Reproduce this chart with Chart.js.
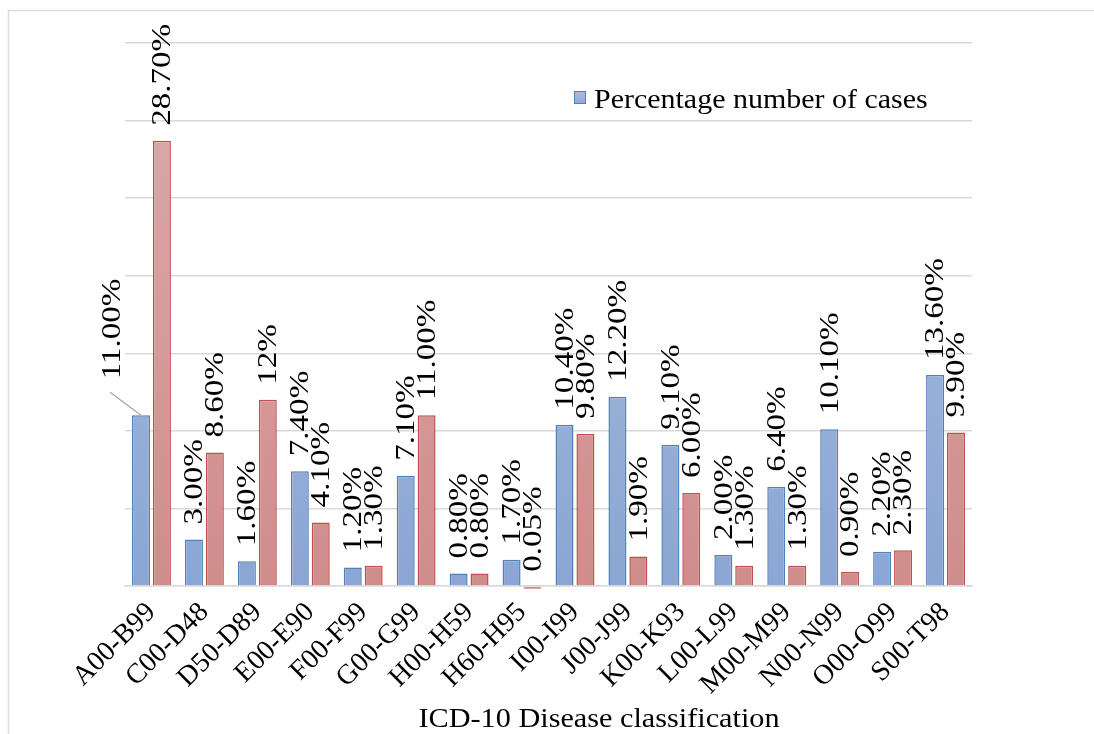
<!DOCTYPE html>
<html>
<head>
<meta charset="utf-8">
<script src="https://cdn.jsdelivr.net/npm/chart.js@4.4.0/dist/chart.umd.min.js"></script>
<style>
  html, body { margin: 0; padding: 0; background: #fff; }
  #wrap { width: 1094px; height: 734px; }
</style>
</head>
<body>
<div id="wrap"><canvas id="chart" width="1094" height="734"></canvas></div>
<script>
// ICD-10 chapters
const categories = ["A00-B99", "C00-D48", "D50-D89", "E00-E90", "F00-F99", "G00-G99", "H00-H59", "H60-H95",
  "I00-I99", "J00-J99", "K00-K93", "L00-L99", "M00-M99", "N00-N99", "O00-O99", "S00-T98"];

// blue series (in legend)
const casesPct = [11.0, 3.0, 1.6, 7.4, 1.2, 7.1, 0.8, 1.7, 10.4, 12.2, 9.1, 2.0, 6.4, 10.1, 2.2, 13.6];
// red series (no legend entry); H60-H95 bar dips just under the axis
const secondPct = [28.7, 8.6, 12.0, 4.1, 1.3, 11.0, 0.8, -0.2, 9.8, 1.9, 6.0, 1.3, 1.3, 0.9, 2.3, 9.9];

// value labels as printed on the chart
const casesText = casesPct.map(v => v.toFixed(2) + "%");
const secondText = ["28.70%", "8.60%", "12%", "4.10%", "1.30%", "11.00%", "0.80%", "0.05%",
  "9.80%", "1.90%", "6.00%", "1.30%", "1.30%", "0.90%", "2.30%", "9.90%"];

const serif = "'Liberation Serif', 'DejaVu Serif', serif";

function vGrad(ctx, area, top, bottom) {
  const g = ctx.createLinearGradient(0, area.top, 0, area.bottom);
  g.addColorStop(0, top);
  g.addColorStop(1, bottom);
  return g;
}

// frame, legend, axis title, rotated value labels
const decorations = {
  id: "decorations",
  beforeDraw(chart) {
    const ctx = chart.ctx;
    ctx.save();
    ctx.strokeStyle = "#dcdcdc";
    ctx.lineWidth = 1.5;
    ctx.beginPath();
    ctx.moveTo(8.5, 734);
    ctx.lineTo(8.5, 10.5);
    ctx.lineTo(1094, 10.5);
    ctx.stroke();
    ctx.restore();
  },
  afterDatasetsDraw(chart) {
    const ctx = chart.ctx;
    ctx.save();
    ctx.fillStyle = "#000";
    ctx.font = "28px " + serif;
    ctx.textAlign = "left";
    ctx.textBaseline = "middle";
    const texts = [casesText, secondText];
    chart.data.datasets.forEach((ds, di) => {
      chart.getDatasetMeta(di).data.forEach((bar, i) => {
        let x = bar.x;
        let y = Math.min(bar.y, bar.base) - 15;
        if (di === 0 && i === 0) {
          // callout label with leader line
          ctx.strokeStyle = "#a6a6a6";
          ctx.lineWidth = 1.2;
          ctx.beginPath();
          ctx.moveTo(bar.x - 31, bar.y - 23);
          ctx.lineTo(bar.x, bar.y);
          ctx.stroke();
          x = bar.x - 29;
          y = bar.y - 36;
        }
        ctx.save();
        ctx.translate(x, y);
        ctx.rotate(-Math.PI / 2);
        ctx.scale(1.18, 1);
        ctx.fillText(texts[di][i], 0, 1);
        ctx.restore();
      });
    });

    // legend (blue series only)
    const lg = ctx.createLinearGradient(0, 92, 0, 104);
    lg.addColorStop(0, "#aabddf");
    lg.addColorStop(1, "#8ea8d4");
    ctx.fillStyle = lg;
    ctx.fillRect(574, 91, 12, 13);
    ctx.strokeStyle = "#4f81bd";
    ctx.lineWidth = 1;
    ctx.strokeRect(574.5, 91.5, 11, 12);
    ctx.fillStyle = "#000";
    ctx.font = "27px " + serif;
    ctx.textBaseline = "alphabetic";
    ctx.save();
    ctx.translate(594, 108);
    ctx.scale(1.11, 1);
    ctx.fillText("Percentage number of cases", 0, 0);
    ctx.restore();

    // x axis title
    ctx.textAlign = "center";
    ctx.save();
    ctx.translate(599, 727);
    ctx.scale(1.08, 1);
    ctx.font = "28px " + serif;
    ctx.fillText("ICD-10 Disease classification", 0, 0);
    ctx.restore();
    ctx.restore();
  }
};

new Chart(document.getElementById("chart"), {
  type: "bar",
  data: {
    labels: categories,
    datasets: [{
      label: "Percentage number of cases",
      data: casesPct,
      backgroundColor: c => c.chart.chartArea ? vGrad(c.chart.ctx, c.chart.chartArea, "#adc0e0", "#8ba6d4") : "#9db3da",
      borderColor: "#4f81bd",
      borderWidth: 1.5,
      categoryPercentage: 0.79,
      barPercentage: 0.86
    }, {
      label: "",
      data: secondPct,
      backgroundColor: c => c.chart.chartArea ? vGrad(c.chart.ctx, c.chart.chartArea, "#ddabab", "#cf8d8c") : "#d69c9c",
      borderColor: c => c.raw < 0 ? "#dba5a5" : "#c0504d",
      borderWidth: 1.5,
      categoryPercentage: 0.79,
      barPercentage: 0.86,
      clip: false
    }]
  },
  options: {
    responsive: false,
    animation: false,
    layout: { padding: { left: 125, right: 122, top: 43, bottom: 0 } },
    plugins: { legend: { display: false }, tooltip: { enabled: false } },
    scales: {
      x: {
        grid: { display: false },
        border: { display: true, color: "#d9d9d9", width: 1.5 },
        ticks: {
          autoSkip: false,
          minRotation: 45,
          maxRotation: 45,
          padding: 2,
          color: "#000",
          font: { family: serif, size: 28 }
        },
        afterFit: s => { s.height = 148; }
      },
      y: {
        min: 0,
        max: 35,
        ticks: { display: false, stepSize: 5 },
        grid: { color: "#d9d9d9", lineWidth: 1.5, drawTicks: false },
        border: { display: false },
        afterFit: s => { s.width = 0; }
      }
    }
  },
  plugins: [decorations]
});
</script>
</body>
</html>
